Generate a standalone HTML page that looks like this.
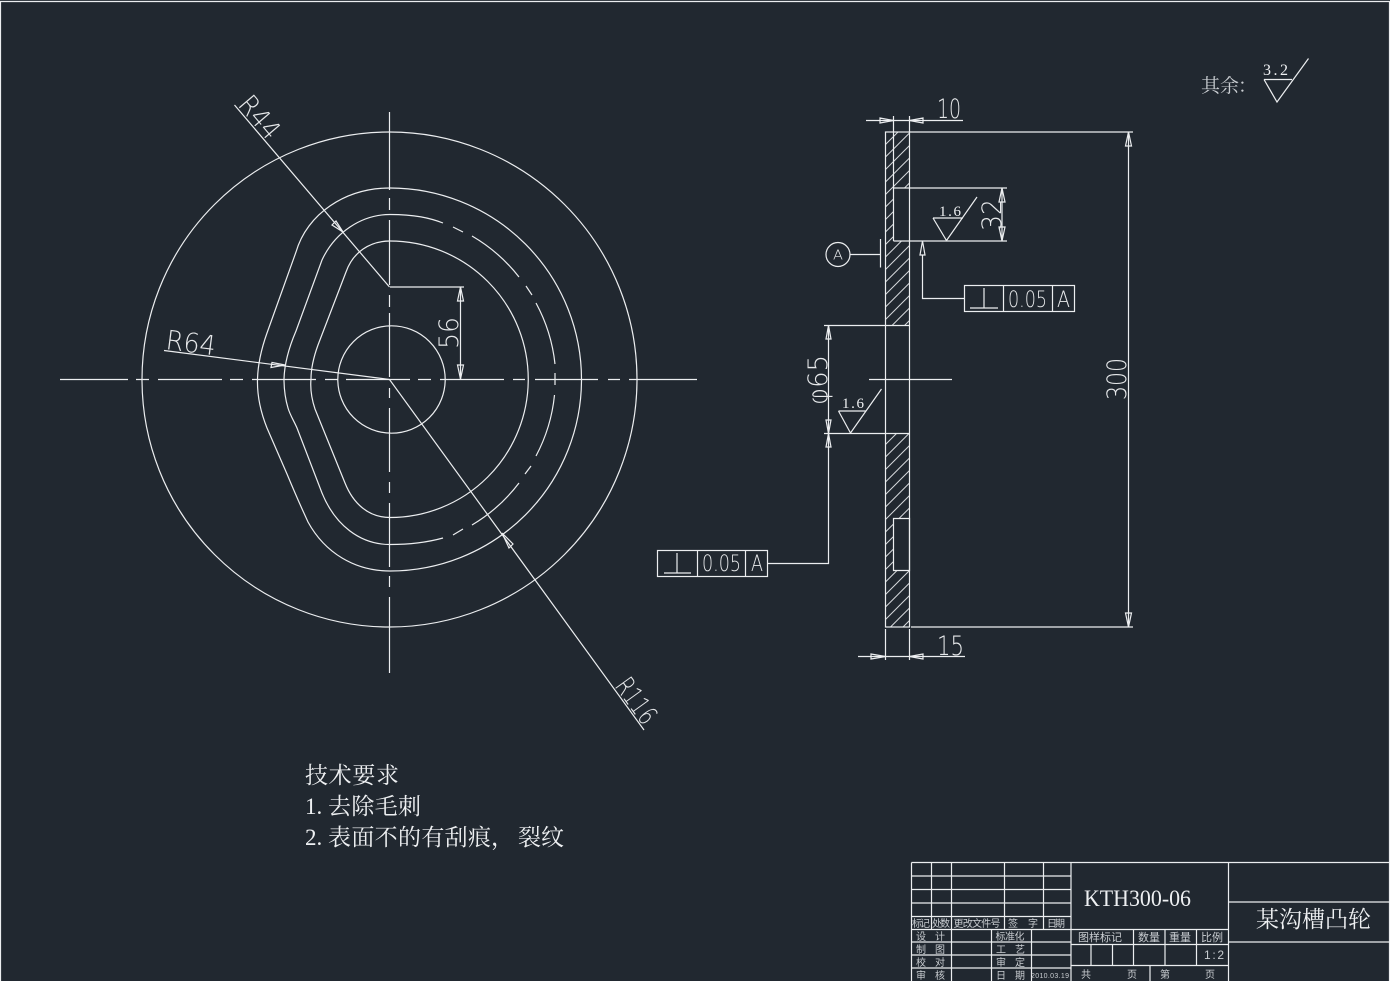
<!DOCTYPE html>
<html><head><meta charset="utf-8"><style>
html,body{margin:0;padding:0;background:#212830;width:1390px;height:981px;overflow:hidden}
svg{display:block}
.l{fill:none;stroke:#eceef0;stroke-width:1.2}
.t{fill:#e6e8ea;font-family:"DejaVu Sans","Liberation Sans",sans-serif;font-weight:200;font-size:27px}
.s{fill:#eef0f2;font-family:"Liberation Serif","Noto Serif CJK SC",serif}
.c{fill:#c9cdd1;font-family:"Liberation Sans","Noto Sans CJK SC",sans-serif;font-size:10px;text-anchor:middle}
</style></head><body>
<svg width="1390" height="981" viewBox="0 0 1390 981" xmlns="http://www.w3.org/2000/svg">
<defs>
<pattern id="h" width="12.5" height="12.5" patternUnits="userSpaceOnUse" x="885.5" y="132">
<path d="M-1,13.5L13.5,-1M-1,1L1,-1M11.5,13.5L13.5,11.5" stroke="#d5d8db" stroke-width="1" fill="none"/>
</pattern>
</defs>
<rect x="0" y="0" width="1390" height="981" fill="#212830"/>
<g class="l">
<path d="M0.5,982V1.5H1389.5V982"/>
<circle cx="389.5" cy="379.5" r="247.5"/>
<circle cx="391.5" cy="379.5" r="53.7"/>
<!-- cam outer -->
<path d="M390,188A191.5,191.5 0 0 1 581.5,379.5A191.5,191.5 0 0 1 390,571C355,571 325,553 308,522L303,511C298,500 292,486 287,474L267,428C261,413 257,396 257.5,379C258,362 262,347 267,333L296,252C307,214 345,188 390,188Z"/>
<!-- cam inner -->
<path d="M390,241A138.25,138.25 0 0 1 528.25,379.25A138.25,138.25 0 0 1 390,517.5C368,517.5 353,503 345,483L315,409C312,400 310,390 311,379C311,367 314,356 318,345L346,272C353,252 370,241 390,241Z"/>
<!-- cam middle -->
<path d="M350,227C362,219 375,214.5 390,214.5C415,214.5 430,218 443,223M453,227L463,232M472,236A165,165 0 0 1 519,277M526,286L532,295M536,303A165,165 0 0 1 555,364M555,373V385M554.5,395A165,165 0 0 1 536,456M531,466L525,474M519,483A165,165 0 0 1 472,525M463,529L453,535M443,538C425,543 408,544.5 390,544.5C360,544.5 335,525 322,493L297,428C294,421 290,415 288,408C285,398 284,389 284,379C284.5,362 290,345 296,331L322,260C329,245 338,235 350,227"/>
<path d="M60,379.5H128M136,379.5H149M158,379.5H222M230,379.5H243M252,379.5H316M325,379.5H338M346,379.5H410M418,379.5H431M440,379.5H504M513,379.5H525M535,379.5H598M608,379.5H620M629,379.5H697"/>
<path d="M389.5,112V190M389.5,198V210M389.5,220V285M389.5,295V307M389.5,313V377M389.5,388V398M389.5,408V472M389.5,482V493M389.5,503V567M389.5,576V587M389.5,597V673"/>
<!-- leaders -->
<path d="M389.5,287L234.5,105M389.5,379.5L164,350.5M389.5,379.5L644,730"/>
<path d="M343,232L332,225L336,221Z"/>
<path d="M285,365L271,367.5L272,362.5Z"/>
<path d="M502,533L513,544L509,548Z"/>
<!-- 56 dim -->
<path d="M390,287H464M460.5,287V379"/>
<path d="M460.5,287L463.5,301H457.5ZM460.5,379L463.5,365H457.5Z"/>
<!-- side view -->
<rect x="885.5" y="132" width="24" height="495" fill="url(#h)" stroke="none"/>
<rect x="894" y="188" width="16" height="53" fill="#212830" stroke="none"/>
<rect x="884" y="325.5" width="26" height="108" fill="#212830" stroke="none"/>
<rect x="893.5" y="518.5" width="16" height="52" fill="#212830" stroke="none"/>
<rect x="885.5" y="132" width="24" height="495"/>
<path d="M893.5,116V241M893.5,188H1007M893.5,241H1007M824,325.5H909.5M824,433.5H909.5M893.5,518.5H909.5V570.5H893.5ZM910,132H1133M911,627H1133"/>
<path d="M909.5,116V132M885.5,629V660M909.5,629V660"/>
<!-- dims -->
<path d="M866,120.5H963M858,656.5H965M1128.5,132V627M1002,188V241M828.5,325V563.5H768M869,379.5H952"/>
<path d="M893.5,120.5L880,118V123ZM909.5,120.5L923,118V123ZM885.5,656.5L871,654V659ZM909.5,656.5L923,654V659Z"/>
<path d="M1128.5,132L1131.5,146H1125.5ZM1128.5,627L1131.5,613H1125.5Z"/>
<path d="M1002,188L1005,202H999ZM1002,241L1005,227H999Z"/>
<path d="M828.5,325.5L831,339H826ZM828.5,433.5L831,420H826ZM828.5,433.5L831,447H826Z"/>
<path d="M922.5,241L925,255H920ZM922.5,255V298.5H964.5"/>
<!-- roughness -->
<path d="M933,218H963M933,218L946.5,240.5L977,197"/>
<path d="M838.5,411H866M838.5,411L850.5,433L881.5,389"/>
<path d="M1264,79.5H1292M1264,79.5L1277,102L1308.5,58.5"/>
<!-- datum -->
<circle cx="838" cy="254.5" r="12"/>
<path d="M850,254.5H880M880.5,239V267.5"/>
<!-- frames -->
<rect x="964.5" y="285.5" width="110" height="26"/>
<path d="M1003.5,285.5V311.5M1052.5,285.5V311.5M970,308H998M984,288V308"/>
<rect x="657.5" y="550.5" width="110" height="26"/>
<path d="M697.5,550.5V576.5M745.5,550.5V576.5M664,573H691M677,553V573"/>
<!-- title block -->
<path d="M911.5,862.5H1390M911.5,876H1071M911.5,889.5H1071M911.5,903H1071M911.5,916.5H1071M911.5,929.5H1228.5M911.5,942H1071M911.5,955H1071M911.5,968H1071"/>
<path d="M911.5,862.5V981M931.5,862.5V929.5M951.5,862.5V981M1004.5,862.5V929.5M1043.5,862.5V929.5M991.5,929.5V981M1031.5,929.5V981M1071,862.5V981M1228.5,862.5V981"/>
<path d="M1228.5,902H1390M1228.5,942H1390M1071,944.5H1228.5M1071,965.5H1228.5M1133.5,929.5V965.5M1165,929.5V965.5M1196.5,929.5V965.5M1091,944.5V965.5M1112.5,944.5V965.5M1150,965.5V981"/>
</g>
<!-- dimension text -->
<g class="t">
<text transform="translate(237,105) rotate(49.6)" textLength="48" lengthAdjust="spacingAndGlyphs">R44</text>
<text transform="translate(165,349) rotate(7.2)" textLength="50" lengthAdjust="spacingAndGlyphs">R64</text>
<text transform="translate(614,686) rotate(54)" textLength="50" lengthAdjust="spacingAndGlyphs">R116</text>
<text transform="translate(458,349) rotate(-90)" textLength="32" lengthAdjust="spacingAndGlyphs">56</text>
<text x="937" y="118" textLength="24" lengthAdjust="spacingAndGlyphs">10</text>
<text x="937" y="655" textLength="27" lengthAdjust="spacingAndGlyphs">15</text>
<text transform="translate(1126,400) rotate(-90)" textLength="42" lengthAdjust="spacingAndGlyphs">300</text>
<text transform="translate(1001,231) rotate(-90)" textLength="32" lengthAdjust="spacingAndGlyphs">32</text>
<text transform="translate(827,405) rotate(-90)" textLength="50" lengthAdjust="spacingAndGlyphs">φ65</text>
<text x="1008" y="307" textLength="39" lengthAdjust="spacingAndGlyphs" style="font-size:22px">0.05</text>
<text x="1057" y="307" textLength="13" lengthAdjust="spacingAndGlyphs" style="font-size:22px">A</text>
<text x="702" y="571" textLength="39" lengthAdjust="spacingAndGlyphs" style="font-size:22px">0.05</text>
<text x="751" y="571" textLength="12" lengthAdjust="spacingAndGlyphs" style="font-size:22px">A</text>
<text x="833" y="259.5" textLength="10" lengthAdjust="spacingAndGlyphs" style="font-size:13px">A</text>
</g>
<g class="s" style="font-size:15px">
<text x="939" y="216" textLength="22" lengthAdjust="spacing">1.6</text>
<text x="842" y="408" textLength="22" lengthAdjust="spacing">1.6</text>
<text x="1263" y="75" textLength="25" lengthAdjust="spacing" style="font-size:16px">3.2</text>
</g>
<text x="1201" y="92" class="s" style="font-size:19px;fill:#c9cdd1">其余<tspan x="1238" style="font-family:'Noto Serif CJK SC',serif">&#xFF1A;</tspan></text>
<!-- tech notes -->
<g class="s" style="font-size:23px">
<text x="305" y="783" textLength="94">技术要求</text>
<text x="305" y="814">1.</text><text x="328" y="814" textLength="93">去除毛刺</text>
<text x="305" y="845">2.</text><text x="328" y="845" textLength="163">表面不的有刮痕</text><text x="491" y="845" style="font-family:'Noto Serif CJK SC',serif">&#xFF0C;</text><text x="518" y="845" textLength="46">裂纹</text>
<text x="1084" y="906" textLength="107" lengthAdjust="spacingAndGlyphs">KTH300-06</text>
<text x="1256" y="927" textLength="115">某沟槽凸轮</text>
</g>
<!-- title cells -->
<g class="c">
<text x="921" y="927" textLength="18">标记</text><text x="941" y="927" textLength="18">处数</text>
<text x="977" y="927" textLength="47">更改文件号</text>
<text x="1013" y="927">签</text><text x="1033" y="927">字</text><text x="1056" y="927" textLength="18">日期</text>
<text x="921" y="940">设</text><text x="940" y="940">计</text>
<text x="921" y="953">制</text><text x="940" y="953">图</text>
<text x="921" y="966">校</text><text x="940" y="966">对</text>
<text x="921" y="979">审</text><text x="940" y="979">核</text>
<text x="1010" y="940" textLength="29">标准化</text>
<text x="1001" y="953">工</text><text x="1020" y="953">艺</text>
<text x="1001" y="966">审</text><text x="1020" y="966">定</text>
<text x="1001" y="979">日</text><text x="1020" y="979">期</text>
<text x="1050" y="978" style="font-size:7px" textLength="38">2010.03.19</text>
<text x="1100" y="941" style="font-size:11px" textLength="44">图样标记</text>
<text x="1149" y="941" style="font-size:11px" textLength="22">数量</text>
<text x="1180" y="941" style="font-size:11px" textLength="22">重量</text>
<text x="1212" y="941" style="font-size:11px" textLength="22">比例</text>
<text x="1214" y="959" style="font-size:12px" textLength="20">1:2</text>
<text x="1086" y="978">共</text><text x="1132" y="978">页</text><text x="1165" y="978">第</text><text x="1210" y="978">页</text>
</g>
</svg>
</body></html>
